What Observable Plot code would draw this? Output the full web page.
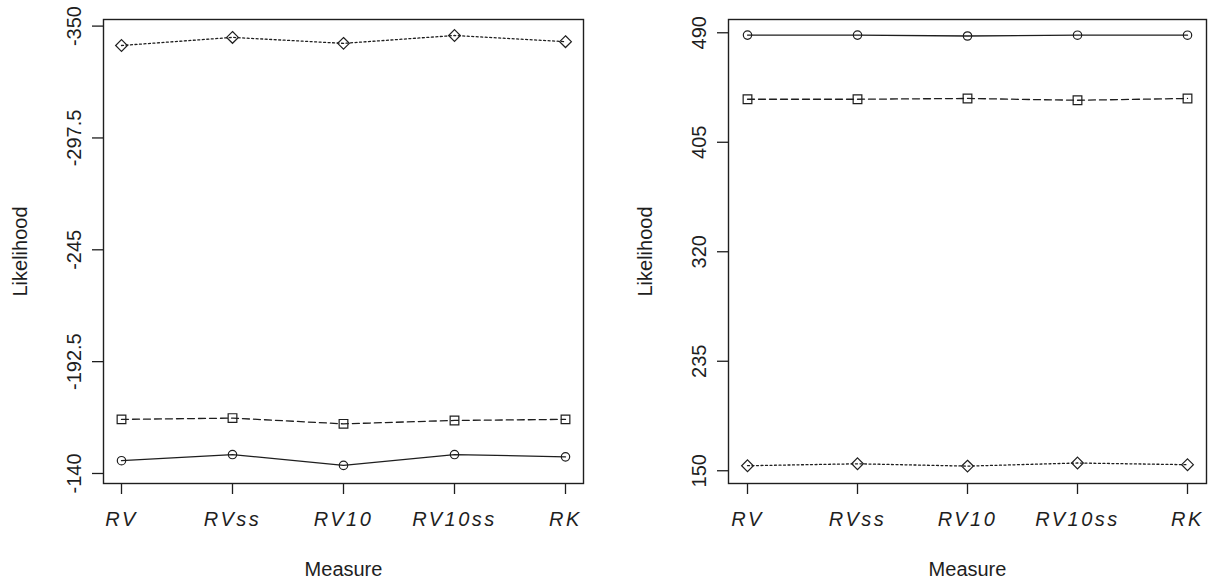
<!DOCTYPE html>
<html>
<head>
<meta charset="utf-8">
<script src="https://cdn.jsdelivr.net/npm/d3@7"></script>
<script src="https://cdn.jsdelivr.net/npm/@observablehq/plot@0.6"></script>
<style>
  html, body { margin: 0; padding: 0; background: #fff; }
  #wrap { position: relative; width: 1213px; height: 580px; overflow: hidden; }
  #wrap > div, #wrap > svg { position: absolute; top: 0; }
  g[aria-label="x-axis tick label"] text { letter-spacing: 2.5px; }
</style>
</head>
<body>
<div id="wrap"></div>
<script>
// ---- data ----
const measures = ["RV", "RVss", "RV10", "RV10ss", "RK"];

const leftCircle  = [-146.0, -148.9, -143.8, -148.9, -147.8];
const leftSquare  = [-165.4, -166.0, -163.3, -164.9, -165.4];
const leftDiamond = [-340.9, -344.7, -341.9, -345.6, -342.7];

const rightCircle  = [488.2, 488.2, 487.5, 488.1, 488.1];
const rightSquare  = [438.4, 438.4, 439.0, 437.6, 439.0];
const rightDiamond = [153.9, 155.4, 153.6, 156.0, 154.7];

const leftTicks  = [-350, -297.5, -245, -192.5, -140];
const rightTicks = [150, 235, 320, 405, 490];

const leftLimits  = [-135.3, -353.1];
const rightLimits = [140.1, 500.3];

const seriesStyle = [
  {symbol: "circle",   r: 4.2, dash: null},
  {symbol: "square",   r: 4.9, dash: "7,4"},
  {symbol: "diamond2", r: 5.3, dash: "2,2.5"}
];

const FONT = "'Liberation Sans', Arial, sans-serif";
const INK = "#1e1e1e";

function panel({series, ticks, limits, width, marginLeft, marginRight}) {
  const marks = [];
  series.forEach((vals, si) => {
    const rows = measures.map((m, i) => ({m, v: vals[i]}));
    const st = seriesStyle[si];
    marks.push(Plot.line(rows, {x: "m", y: "v", stroke: INK, strokeWidth: 1.3,
      strokeDasharray: st.dash || undefined}));
    marks.push(Plot.dot(rows, {x: "m", y: "v", symbol: st.symbol, r: st.r,
      stroke: INK, strokeWidth: 1.2, fill: "none"}));
  });
  marks.push(Plot.frame({stroke: INK, strokeWidth: 1.4}));
  marks.push(Plot.axisY(ticks, {tickSize: 11, tickPadding: 12, tickRotate: -90,
    tickFormat: d => String(d), label: null, stroke: INK, strokeWidth: 1.3, fontSize: 20, fill: INK}));
  marks.push(Plot.axisX(measures, {tickSize: 11, tickPadding: 17, label: null,
    stroke: INK, strokeWidth: 1.3, fontSize: 20, fontStyle: "italic", fill: INK}));
  marks.push(Plot.text(["Likelihood"], {frameAnchor: "left", dx: -83, rotate: -90,
    textAnchor: "middle", lineAnchor: "middle", fontSize: 20, fill: INK}));
  marks.push(Plot.text(["Measure"], {frameAnchor: "bottom", dy: 86,
    textAnchor: "middle", lineAnchor: "middle", fontSize: 20, fill: INK}));
  return Plot.plot({
    width, height: 580,
    marginTop: 19, marginBottom: 97, marginLeft, marginRight,
    style: {fontFamily: FONT, background: "transparent", overflow: "visible"},
    x: {type: "point", domain: measures, padding: 0.16},
    y: {type: "linear", domain: limits},
    marks
  });
}

const left = panel({series: [leftCircle, leftSquare, leftDiamond], ticks: leftTicks,
  limits: leftLimits, width: 606, marginLeft: 103, marginRight: 23});
const right = panel({series: [rightCircle, rightSquare, rightDiamond], ticks: rightTicks,
  limits: rightLimits, width: 606, marginLeft: 121, marginRight: 7});

const wrap = document.getElementById("wrap");
left.style.left = "0px";
right.style.left = "607px";
wrap.appendChild(left);
wrap.appendChild(right);
</script>
</body>
</html>
